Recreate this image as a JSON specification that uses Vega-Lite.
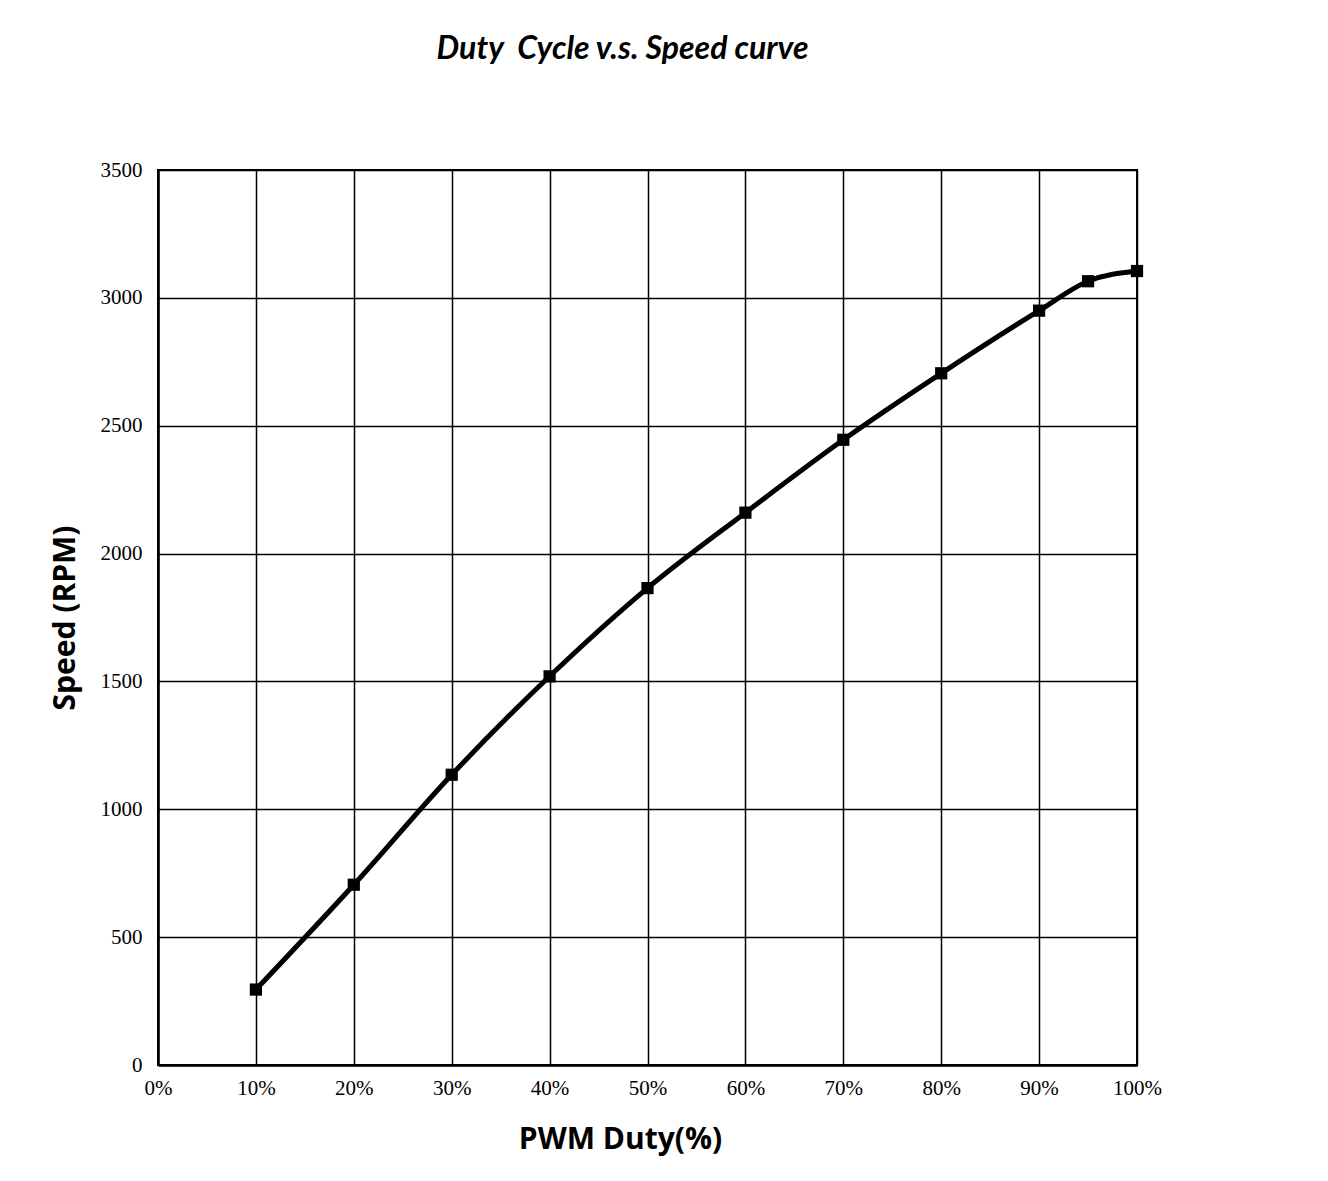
{
  "$schema": "https://vega.github.io/schema/vega-lite/v6.json",
  "autosize": "none",
  "width": 979,
  "height": 895,
  "padding": {"left": 158, "top": 170, "right": 191, "bottom": 116},
  "background": "white",
  "title": {
    "text": "Duty\u00a0 Cycle v.s. Speed curve",
    "font": "Lato",
    "fontSize": 32,
    "fontWeight": "bold",
    "fontStyle": "italic",
    "color": "black",
    "anchor": "middle",
    "dx": -25,
    "offset": 93
  },
  "data": {
    "values": [
      {"duty": 10, "speed": 295},
      {"duty": 20, "speed": 705},
      {"duty": 30, "speed": 1135},
      {"duty": 40, "speed": 1520},
      {"duty": 50, "speed": 1865},
      {"duty": 60, "speed": 2160},
      {"duty": 70, "speed": 2445},
      {"duty": 80, "speed": 2705},
      {"duty": 90, "speed": 2950},
      {"duty": 95, "speed": 3065},
      {"duty": 100, "speed": 3105}
    ]
  },
  "encoding": {
    "x": {
      "field": "duty",
      "type": "quantitative",
      "scale": {"domain": [0, 100], "nice": false, "zero": true},
      "axis": {
        "title": "PWM Duty(%)",
        "values": [0, 10, 20, 30, 40, 50, 60, 70, 80, 90, 100],
        "labelExpr": "datum.value + '%'",
        "labelFont": "Liberation Serif",
        "labelFontSize": 21,
        "labelColor": "black",
        "labelPadding": 12,
        "labelFlush": false,
        "labelOverlap": false,
        "ticks": false,
        "grid": true,
        "gridColor": "black",
        "gridWidth": 1.5,
        "gridOpacity": 1,
        "domainColor": "black",
        "domainWidth": 2.5,
        "titleFont": "Open Sans",
        "titleFontSize": 30,
        "titleFontWeight": "bold",
        "titleColor": "black",
        "titlePadding": 26,
        "titleX": 462
      }
    },
    "y": {
      "field": "speed",
      "type": "quantitative",
      "scale": {"domain": [0, 3500], "nice": false},
      "axis": {
        "title": "Speed (RPM)",
        "values": [0, 500, 1000, 1500, 2000, 2500, 3000, 3500],
        "format": "d",
        "labelFont": "Liberation Serif",
        "labelFontSize": 21,
        "labelColor": "black",
        "labelPadding": 16,
        "labelFlush": false,
        "labelOverlap": false,
        "ticks": false,
        "grid": true,
        "gridColor": "black",
        "gridWidth": 1.5,
        "gridOpacity": 1,
        "domainColor": "black",
        "domainWidth": 2.5,
        "titleFont": "Open Sans",
        "titleFontSize": 30,
        "titleFontWeight": "bold",
        "titleColor": "black",
        "titlePadding": 20
      }
    }
  },
  "layer": [
    {"mark": {"type": "line", "interpolate": "monotone", "color": "black", "strokeWidth": 5}},
    {"mark": {"type": "point", "shape": "square", "filled": true, "color": "black", "size": 150, "opacity": 1}}
  ],
  "config": {
    "view": {"stroke": "black", "strokeWidth": 2}
  }
}
